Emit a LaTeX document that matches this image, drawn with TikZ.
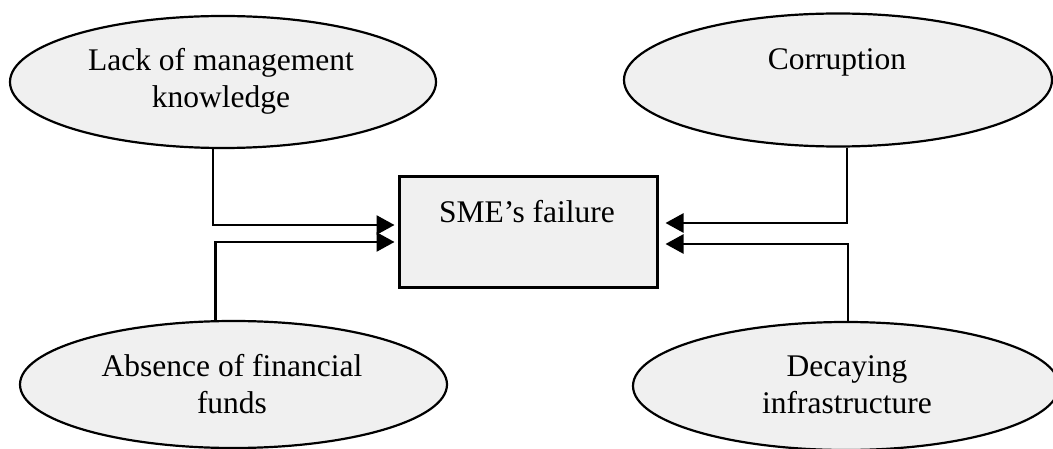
\documentclass[tikz,border=0pt]{standalone}
\usepackage{fontspec}
\setmainfont{Liberation Serif}
\usetikzlibrary{shapes.geometric,arrows.meta}
\definecolor{boxfill}{HTML}{F0F0F0}
\begin{document}
\begin{tikzpicture}[x=1pt,y=-1pt,
  factor/.style={ellipse,draw=black,line width=2.2pt,fill=boxfill,inner sep=0pt},
  centerbox/.style={rectangle,draw=black,line width=3pt,fill=boxfill,inner sep=0pt,minimum width=258pt,minimum height=111pt},
  lbl/.style={inner sep=0pt,align=center,anchor=base,font=\fontsize{31.5}{37}\selectfont},
  arr/.style={line width=2.6pt,-{Triangle[length=18pt,width=19pt]}}]
\useasboundingbox (0,0) rectangle (1053,449);
\node[factor,minimum width=426pt,minimum height=132pt] (e1) at (223,82) {};
\node[factor,minimum width=428pt,minimum height=133pt] (e2) at (838,80) {};
\node[factor,minimum width=427pt,minimum height=127pt] (e3) at (233.5,384.5) {};
\node[factor,minimum width=426pt,minimum height=128pt] (e4) at (846,386) {};
\node[centerbox] (box) at (528,232.5) {};
\node[lbl] (t1) at (221,108) {Lack of management\\knowledge};
\node[lbl] (t2) at (837,70) {Corruption};
\node[lbl] (t3) at (232,413) {Absence of financial\\funds};
\node[lbl] (t4) at (847,413) {Decaying\\infrastructure};
\node[lbl] (tb) at (527,223) {SME’s failure};
\draw[arr,shorten >=3pt] ([xshift=-10pt]e1.south) |- ([yshift=7.5pt]box.west);
\draw[arr,shorten >=3pt] ([xshift=-18pt]e3.north) |- ([yshift=-9.5pt]box.west);
\draw[arr,shorten >=7pt] ([xshift=9pt]e2.south) |- ([yshift=9.5pt]box.east);
\draw[arr,shorten >=7pt] ([xshift=2pt]e4.north) |- ([yshift=-11.5pt]box.east);
\end{tikzpicture}
\end{document}
